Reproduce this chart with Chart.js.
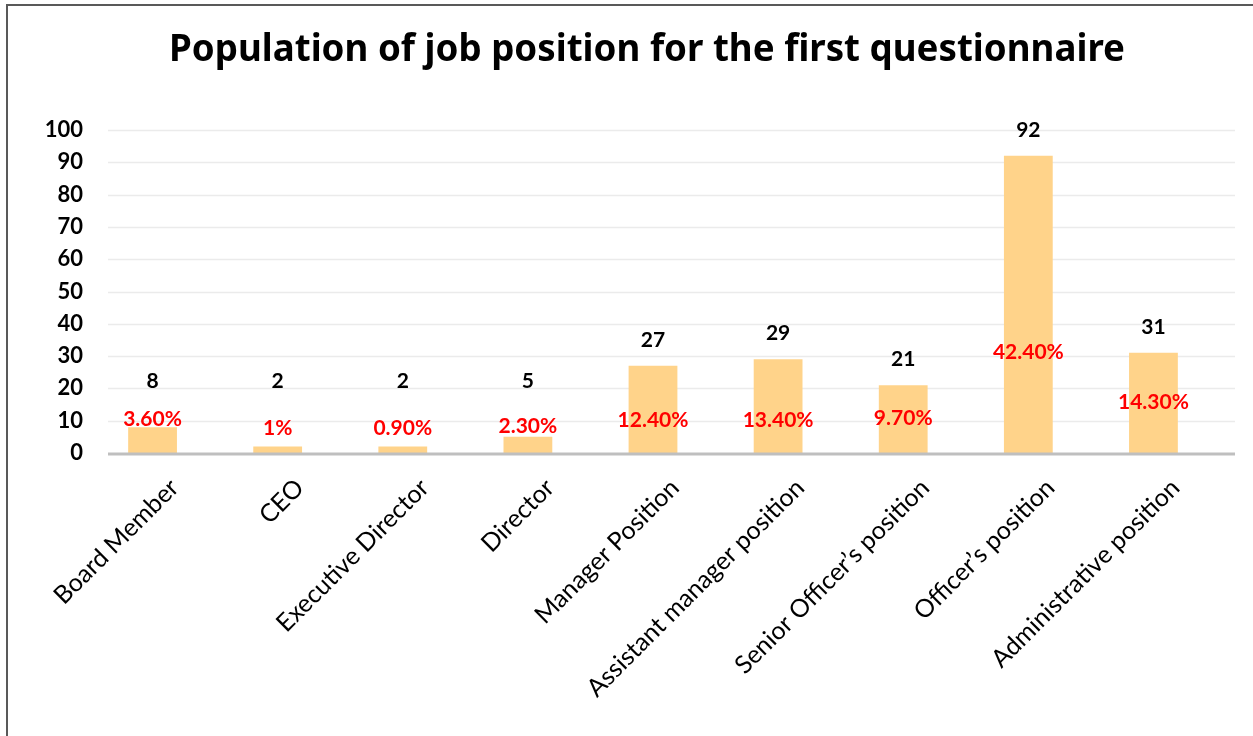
<!DOCTYPE html>
<html>
<head>
<meta charset="utf-8">
<script src="https://cdn.jsdelivr.net/npm/chart.js@4.4.1/dist/chart.umd.min.js"></script>
<style>
  html, body { margin: 0; padding: 0; background: #fff; }
  #frame {
    position: absolute; left: 6px; top: 4px; width: 1247px; height: 732px;
    border-top: 2px solid #595959; border-left: 2px solid #595959;
  }
  #wrap { position: absolute; left: 0; top: 0; width: 1253px; height: 736px; }
</style>
</head>
<body>
<div id="frame"></div>
<div id="wrap"><canvas id="myChart" width="1253" height="736"></canvas></div>
<script>
const labels = [
  "Board Member",
  "CEO",
  "Executive Director",
  "Director",
  "Manager Position",
  "Assistant manager position",
  "Senior Officer\u2019s position",
  "Officer\u2019s position",
  "Administrative position",
];

const counts = [8, 2, 2, 5, 27, 29, 21, 92, 31];

const percents = ["3.60%", "1%", "0.90%", "2.30%", "12.40%", "13.40%", "9.70%", "42.40%", "14.30%"];

const yTicks = [0, 10, 20, 30, 40, 50, 60, 70, 80, 90, 100];

const titleText = "Population of job position for the first questionnaire";

// distance of each red label above the axis, px (hand placed in the original)
const redLift = [34, 25, 25, 27, 33, 33, 35, 101, 51];

// the plot frame (grid + axis line) sits a bit right of the category bands
const frameShift = 18;

const barLabels = {
  id: "barLabels",
  beforeDatasetsDraw(chart) {
    const ctx = chart.ctx;
    const area = chart.chartArea;
    const y = chart.scales.y;
    ctx.save();
    ctx.strokeStyle = "#ebebeb";
    ctx.lineWidth = 1.5;
    yTicks.slice(1).forEach((v) => {
      const py = Math.round(y.getPixelForValue(v)) + 0.5;
      ctx.beginPath();
      ctx.moveTo(area.left + frameShift, py);
      ctx.lineTo(area.right + frameShift + 1, py);
      ctx.stroke();
    });
    ctx.restore();
  },
  afterDatasetsDraw(chart) {
    const ctx = chart.ctx;
    const area = chart.chartArea;
    const meta = chart.getDatasetMeta(0);
    const zeroY = chart.scales.y.getPixelForValue(0);
    ctx.save();
    ctx.strokeStyle = "#bfbfbf";
    ctx.lineWidth = 3;
    ctx.beginPath();
    ctx.moveTo(area.left + frameShift, zeroY + 1);
    ctx.lineTo(area.right + frameShift + 1, zeroY + 1);
    ctx.stroke();

    ctx.textAlign = "center";
    ctx.textBaseline = "middle";
    meta.data.forEach((bar, i) => {
      ctx.fillStyle = "#000";
      ctx.font = "bold 21px Lato";
      ctx.fillText(String(counts[i]), bar.x, Math.min(bar.y - 26, zeroY - 72));
      ctx.fillStyle = "#ff0000";
      ctx.font = "bold 21px Lato";
      ctx.fillText(percents[i], bar.x, zeroY - redLift[i]);
    });
    ctx.restore();
  },
  afterDraw(chart) {
    const ctx = chart.ctx;
    ctx.save();
    ctx.fillStyle = "#000";
    ctx.textAlign = "center";
    ctx.textBaseline = "middle";
    let size = 32;
    ctx.font = "bold " + size + "px 'Comic Sans MS', 'Noto Sans'";
    const w = ctx.measureText(titleText).width;
    size = size * 955 / w;
    ctx.font = "bold " + size.toFixed(1) + "px 'Comic Sans MS', 'Noto Sans'";
    ctx.fillText(titleText, 647, 51);
    ctx.restore();
  },
};

const ctx = document.getElementById("myChart");

const myChart = new Chart(ctx, {
  type: "bar",
  data: {
    labels: labels,
    datasets: [
      {
        data: counts,
        backgroundColor: "#ffd38a",
        borderWidth: 0,
        categoryPercentage: 1,
        barPercentage: 0.39,
      },
    ],
  },
  options: {
    responsive: false,
    animation: false,
    layout: {
      padding: { top: 130, right: 37, bottom: 0, left: 0 },
    },
    plugins: {
      legend: { display: false },
      tooltip: { enabled: false },
      title: { display: false },
    },
    scales: {
      x: {
        grid: { display: false, drawTicks: false },
        border: { display: false },
        ticks: {
          color: "#000",
          font: { family: "Lato", size: 25 },
          minRotation: 45,
          maxRotation: 45,
          autoSkip: false,
          padding: 20,
          labelOffset: 22,
        },
        afterFit(scale) {
          scale.height = 283;
        },
      },
      y: {
        min: 0,
        max: 100,
        afterBuildTicks(scale) {
          scale.ticks = yTicks.map((v) => ({ value: v }));
        },
        grid: { display: false, drawTicks: false },
        border: { display: false },
        ticks: {
          color: "#000",
          font: { family: "Lato", size: 22, weight: "bold" },
          padding: 7,
        },
        afterFit(scale) {
          scale.width = 90;
        },
      },
    },
  },
  plugins: [barLabels],
});
</script>
</body>
</html>
